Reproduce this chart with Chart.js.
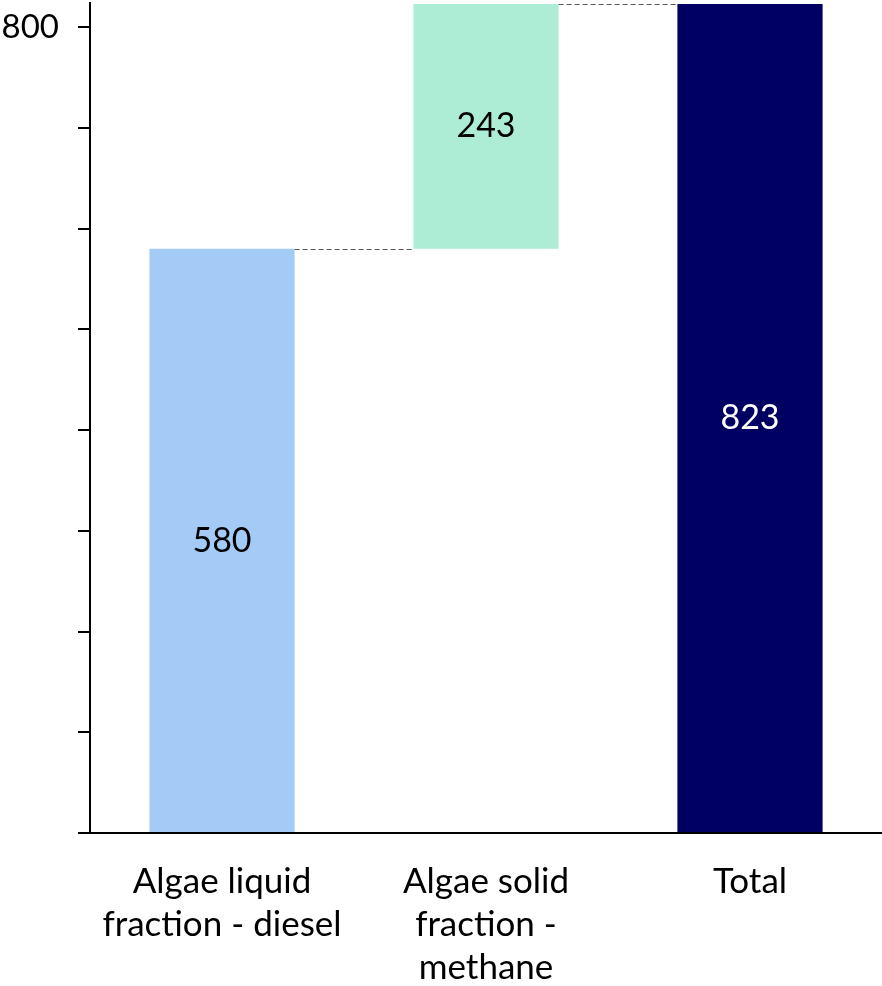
<!DOCTYPE html>
<html>
<head>
<meta charset="utf-8">
<script src="https://cdn.jsdelivr.net/npm/chart.js@4/dist/chart.umd.min.js"></script>
<style>
  html, body { margin: 0; padding: 0; background: #fff; }
  #wrap { width: 882px; height: 986px; }
</style>
</head>
<body>
<div id="wrap"><canvas id="c" width="882" height="986"></canvas></div>
<script>
// Waterfall: two contributions stacking up to a total
const categories = [
  ['Algae liquid', 'fraction - diesel'],
  ['Algae solid', 'fraction -', 'methane'],
  ['Total']
];
const stepValues = [580, 243];
const totalValue = 823;
const yTickLabels = ['800'];

const barColors = ['#A3CBF6', '#ADEDD6', '#000062'];
const labelColors = ['#000000', '#000000', '#ffffff'];
const FONT = 'Lato, "Open Sans", sans-serif';

// floating ranges [start, end] for each bar
const ranges = [];
let running = 0;
stepValues.forEach(v => { ranges.push([running, running + v]); running += v; });
ranges.push([0, totalValue]);
const shownValues = stepValues.concat([totalValue]);

const connectorPlugin = {
  id: 'connectors',
  afterDatasetsDraw(chart) {
    const ctx = chart.ctx;
    const meta = chart.getDatasetMeta(0);
    const y = chart.scales.y;
    ctx.save();
    ctx.strokeStyle = '#555555';
    ctx.lineWidth = 1;
    ctx.setLineDash([5, 3]);
    for (let i = 0; i < meta.data.length - 1; i++) {
      const a = meta.data[i], b = meta.data[i + 1];
      const py = Math.round(y.getPixelForValue(ranges[i][1])) + 0.5;
      ctx.beginPath();
      ctx.moveTo(a.x + a.width / 2, py);
      ctx.lineTo(b.x - b.width / 2, py);
      ctx.stroke();
    }
    ctx.restore();
  }
};

const valueLabelPlugin = {
  id: 'valueLabels',
  afterDatasetsDraw(chart) {
    const ctx = chart.ctx;
    const meta = chart.getDatasetMeta(0);
    const y = chart.scales.y;
    ctx.save();
    ctx.font = '34px ' + FONT;
    ctx.textAlign = 'center';
    ctx.textBaseline = 'middle';
    meta.data.forEach((bar, i) => {
      const mid = (ranges[i][0] + ranges[i][1]) / 2;
      ctx.fillStyle = labelColors[i];
      ctx.fillText(String(shownValues[i]), bar.x, y.getPixelForValue(mid));
    });
    ctx.restore();
  }
};

new Chart(document.getElementById('c'), {
  type: 'bar',
  data: {
    labels: categories,
    datasets: [{
      data: ranges,
      backgroundColor: barColors,
      borderWidth: 0,
      barPercentage: 0.55,
      categoryPercentage: 1
    }]
  },
  options: {
    responsive: false,
    animation: false,
    devicePixelRatio: 1,
    layout: { padding: { top: 3, right: 0, left: 0, bottom: 0 } },
    plugins: { legend: { display: false }, tooltip: { enabled: false } },
    scales: {
      x: {
        grid: { display: false },
        border: { color: '#000', width: 2 },
        ticks: {
          color: '#000',
          font: { family: FONT, size: 35, lineHeight: '43px' },
          padding: 19,
          maxRotation: 0,
          autoSkip: false
        },
        afterFit(scale) {
          scale.height = 153;
          scale.paddingLeft = 0;
          scale.paddingRight = 0;
        }
      },
      y: {
        min: 0,
        max: 824,
        grid: { drawOnChartArea: false, color: '#000', lineWidth: 2, tickLength: 12 },
        border: { color: '#000', width: 2 },
        ticks: {
          stepSize: 100,
          includeBounds: false,
          color: '#000',
          padding: 19,
          font: { family: FONT, size: 33 },
          callback: v => (yTickLabels.includes(String(v)) ? String(v) : '')
        },
        afterFit(scale) {
          scale.width = 90;
          scale.paddingTop = 0;
          scale.paddingBottom = 0;
        }
      }
    }
  },
  plugins: [connectorPlugin, valueLabelPlugin]
});
</script>
</body>
</html>
